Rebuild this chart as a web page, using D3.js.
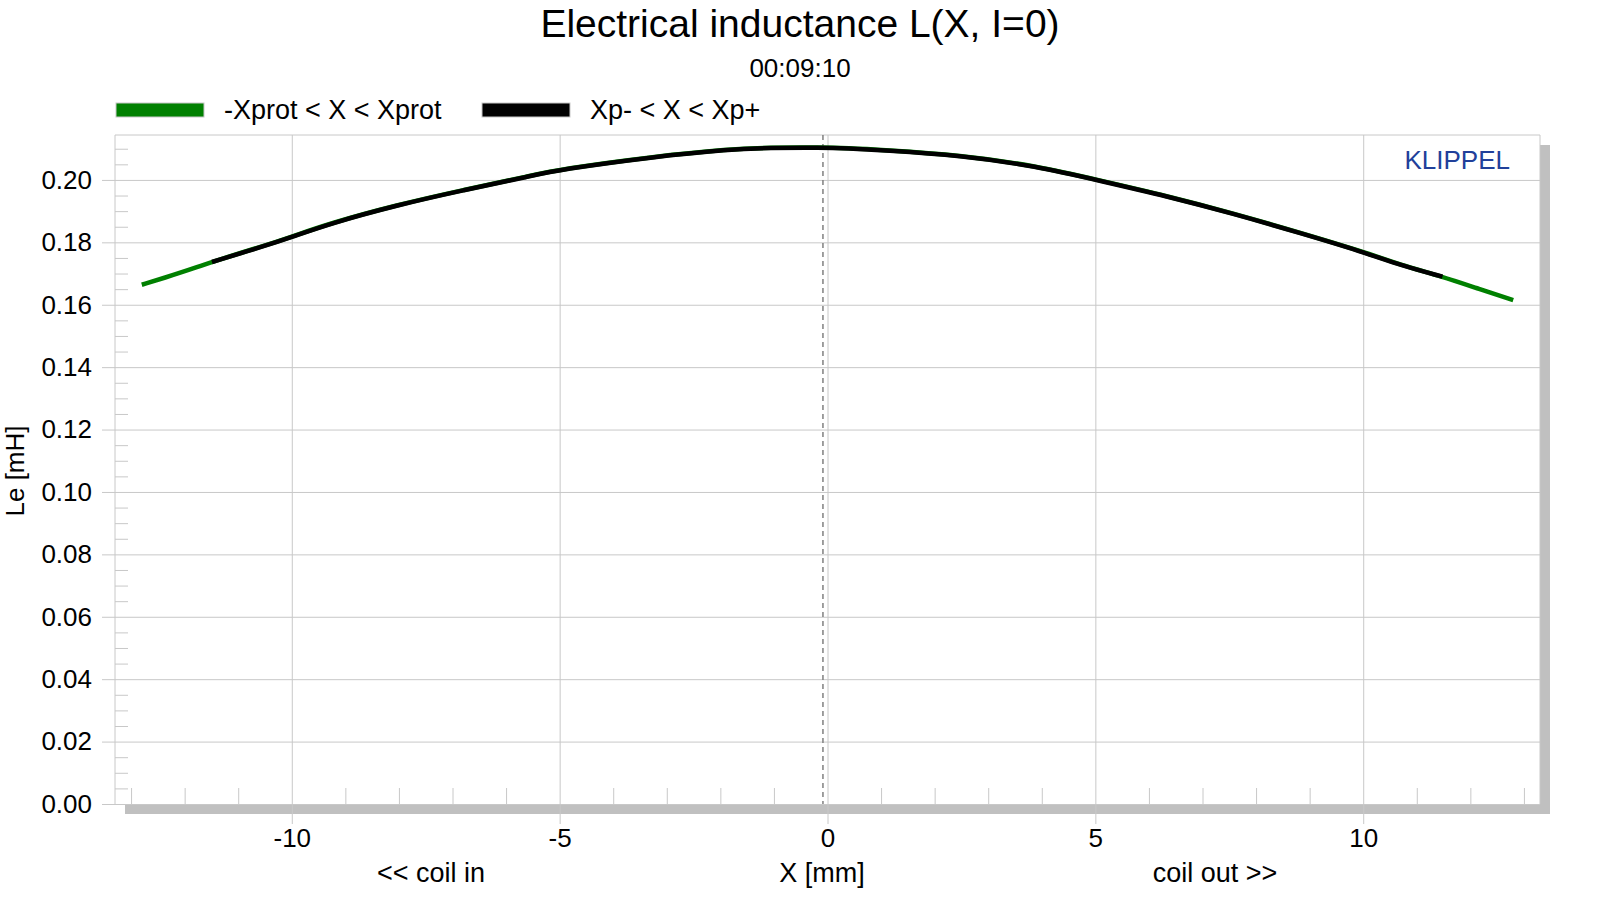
<!DOCTYPE html>
<html>
<head>
<meta charset="utf-8">
<script src="https://cdn.jsdelivr.net/npm/d3@7"></script>
<style>
  body { margin: 0; background: #fff; }
  svg text { font-family: Arial, "Liberation Sans", sans-serif; }
</style>
</head>
<body>
<div id="chart"></div>
<script>
// values
var protX = [-12.8, -12.4, -11.77, -11.49, -10.53, -10.0, -9.29, -8.04, -6.8, -5.55, -5.0, -3.25, -1.82, -1.1, -0.1, 0.36, 1.04, 2.47, 3.9, 5.09, 6.33, 7.57, 8.82, 10.0, 10.69, 11.48, 12.12, 12.8];
var protL = [0.1664, 0.1685, 0.1720, 0.1738, 0.1788, 0.1818, 0.1861, 0.1920, 0.1968, 0.2013, 0.2034, 0.2075, 0.2099, 0.2104, 0.2104, 0.2102, 0.2096, 0.2080, 0.2045, 0.1998, 0.1949, 0.1893, 0.1831, 0.1770, 0.1728, 0.1690, 0.1653, 0.1615];

var xpX = [-11.49, -10.53, -10.0, -9.29, -8.04, -6.8, -5.55, -5.0, -3.25, -1.82, -1.1, -0.1, 0.36, 1.04, 2.47, 3.9, 5.09, 6.33, 7.57, 8.82, 10.0, 10.69, 11.48];
var xpL = [0.1737, 0.1787, 0.1817, 0.1860, 0.1919, 0.1967, 0.2012, 0.2033, 0.2074, 0.2098, 0.2103, 0.2104, 0.2101, 0.2095, 0.2079, 0.2044, 0.1997, 0.1948, 0.1892, 0.1830, 0.1769, 0.1727, 0.1690];

var xMajor = [-10, -5, 0, 5, 10];
var xMinor = [-13, -12, -11, -9, -8, -7, -6, -4, -3, -2, -1, 1, 2, 3, 4, 6, 7, 8, 9, 11, 12, 13];
var yMajor = [0, 0.02, 0.04, 0.06, 0.08, 0.10, 0.12, 0.14, 0.16, 0.18, 0.20];
var yMinor = d3.range(0.005, 0.2144, 0.005).filter(function (v) {
  return Math.abs(v / 0.02 - Math.round(v / 0.02)) > 0.01;
});
var seriesNames = ["-Xprot < X < Xprot", "Xp- < X < Xp+"];
var seriesColors = ["#008000", "#000000"];
var xpCenter = -0.085; // dashed marker

var W = 1600, H = 900;
var pLeft = 115, pRight = 1540, pTop = 135, pBottom = 804;

var svg = d3.select("#chart").append("svg")
  .attr("width", W).attr("height", H);

var x = d3.scaleLinear().domain([-13.3, 13.3]).range([pLeft, pRight]);
var y = d3.scaleLinear().domain([0, 0.2144]).range([pBottom, pTop]);

var gridColor = "#c8c8c8";

// shadow
svg.append("rect").attr("x", 125).attr("y", pBottom).attr("width", pRight + 10 - 125).attr("height", 10).attr("fill", "#c0c0c0");
svg.append("rect").attr("x", pRight).attr("y", 145).attr("width", 10).attr("height", pBottom + 10 - 145).attr("fill", "#c0c0c0");

// frame
svg.append("path")
  .attr("d", "M" + pLeft + "," + pBottom + "V" + pTop + "H" + pRight + "V" + pBottom)
  .attr("fill", "none").attr("stroke", gridColor).attr("stroke-width", 1);

// y axis with grid
var yAxis = svg.append("g")
  .attr("transform", "translate(102,0)")
  .call(d3.axisLeft(y).tickValues(yMajor).tickFormat(d3.format(".2f"))
    .tickSize(-(pRight - 102)).tickPadding(10));
yAxis.select(".domain").remove();
yAxis.selectAll("line").attr("stroke", gridColor);
yAxis.selectAll("text").attr("font-size", 26).attr("fill", "#000");

var yMin = svg.append("g")
  .attr("transform", "translate(" + pLeft + ",0)")
  .call(d3.axisLeft(y).tickValues(yMinor).tickFormat("").tickSize(-13));
yMin.select(".domain").remove();
yMin.selectAll("line").attr("stroke", gridColor);

// x axis with grid
var xAxis = svg.append("g")
  .attr("transform", "translate(0,824)")
  .call(d3.axisBottom(x).tickValues(xMajor).tickFormat(function (d) { return String(d); })
    .tickSize(-(824 - pTop)).tickPadding(5));
xAxis.select(".domain").remove();
xAxis.selectAll("line").attr("stroke", gridColor);
xAxis.selectAll("text").attr("font-size", 26).attr("fill", "#000");

var xMin = svg.append("g")
  .attr("transform", "translate(0," + pBottom + ")")
  .call(d3.axisBottom(x).tickValues(xMinor).tickFormat("").tickSize(-16));
xMin.select(".domain").remove();
xMin.selectAll("line").attr("stroke", gridColor);

// dashed centre marker
svg.append("line")
  .attr("x1", x(xpCenter)).attr("x2", x(xpCenter))
  .attr("y1", pTop).attr("y2", pBottom)
  .attr("stroke", "#808080").attr("stroke-width", 1.5)
  .attr("stroke-dasharray", "5,4");

// curves
var line = d3.line()
  .x(function (d) { return x(d[0]); })
  .y(function (d) { return y(d[1]); })
  .curve(d3.curveBasis);

svg.append("path")
  .datum(d3.zip(protX, protL))
  .attr("d", line)
  .attr("fill", "none").attr("stroke", seriesColors[0]).attr("stroke-width", 4.5);

svg.append("path")
  .datum(d3.zip(xpX, xpL))
  .attr("d", line)
  .attr("fill", "none").attr("stroke", seriesColors[1]).attr("stroke-width", 4.5);

// KLIPPEL
svg.append("text").attr("x", 1510).attr("y", 169)
  .attr("text-anchor", "end").attr("font-size", 26).attr("fill", "#21409a")
  .text("KLIPPEL");

// title
svg.append("text").attr("x", 800).attr("y", 37)
  .attr("text-anchor", "middle").attr("font-size", 39)
  .text("Electrical inductance L(X, I=0)");
svg.append("text").attr("x", 800).attr("y", 77)
  .attr("text-anchor", "middle").attr("font-size", 26)
  .text("00:09:10");

// legend
var legX = [116, 482];
seriesNames.forEach(function (name, i) {
  svg.append("rect").attr("x", legX[i]).attr("y", 103).attr("width", 88).attr("height", 14)
    .attr("fill", seriesColors[i]).attr("stroke", "#c8c8c8");
  svg.append("text").attr("x", legX[i] + 108).attr("y", 119)
    .attr("font-size", 27).text(name);
});

// axis labels
svg.append("text").attr("x", 431).attr("y", 882).attr("text-anchor", "middle").attr("font-size", 27).text("<< coil in");
svg.append("text").attr("x", 822).attr("y", 882).attr("text-anchor", "middle").attr("font-size", 27).text("X [mm]");
svg.append("text").attr("x", 1215).attr("y", 882).attr("text-anchor", "middle").attr("font-size", 27).text("coil out >>");
svg.append("text").attr("transform", "translate(24,471) rotate(-90)")
  .attr("text-anchor", "middle").attr("font-size", 26).text("Le [mH]");
</script>
</body>
</html>
